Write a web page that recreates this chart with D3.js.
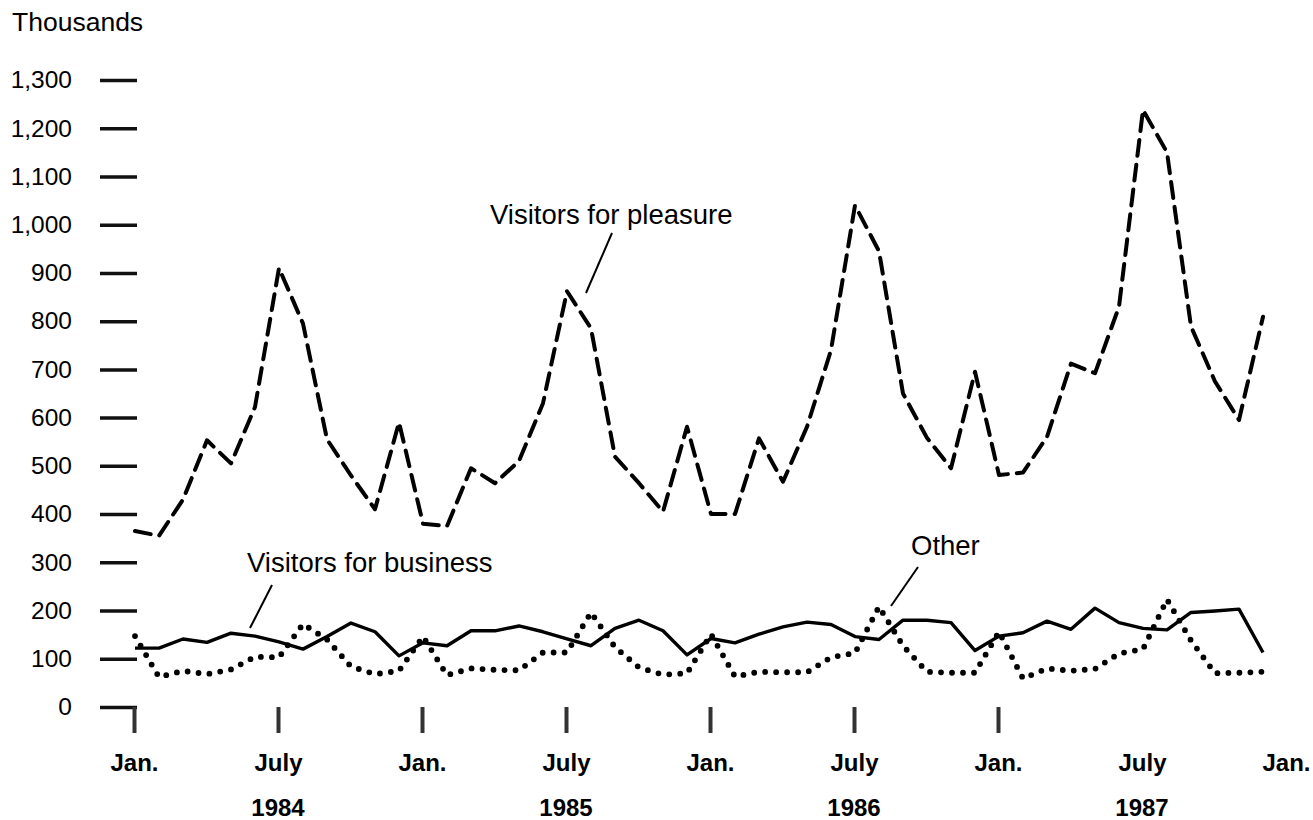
<!DOCTYPE html>
<html>
<head>
<meta charset="utf-8">
<script src="https://cdn.jsdelivr.net/npm/d3@7"></script>
<style>
  html, body { margin: 0; padding: 0; background: #fff; }
  svg { display: block; font-family: "Liberation Sans", Arial, Helvetica, sans-serif; }
</style>
</head>
<body>
<svg id="chart" width="1313" height="820"></svg>
<script>
// Monthly series, Jan 1984 .. Dec 1987 (thousands)
const pleasure = [365, 355, 430, 553, 505, 622, 910, 795, 555, 480, 410, 590,
                  380, 375, 495, 464, 510, 630, 862, 785, 519, 464, 405, 581,
                  400, 400, 557, 467, 581, 740, 1040, 945, 650, 558, 495, 695,
                  481, 486, 560, 712, 692, 830, 1238, 1150, 789, 675, 595, 809];
const business = [122, 122, 141, 134, 153, 147, 135, 120, 146, 174, 156, 106,
                  133, 127, 158, 158, 168, 156, 141, 127, 163, 180, 158, 108,
                  142, 133, 151, 166, 176, 171, 146, 140, 180, 180, 175, 117,
                  147, 154, 178, 161, 205, 175, 163, 160, 196, 199, 203, 113];
const other = [147, 62, 75, 68, 78, 104, 103, 172, 140, 84, 68, 75,
               146, 66, 80, 77, 76, 113, 113, 196, 124, 82, 67, 70,
               151, 63, 73, 72, 72, 103, 112, 208, 127, 73, 71, 71,
               156, 59, 80, 75, 79, 111, 120, 223, 138, 70, 71, 73];
const yTicks = [0, 100, 200, 300, 400, 500, 600, 700, 800, 900, 1000, 1100, 1200, 1300];
const xTickMonths = [0, 6, 12, 18, 24, 30, 36, 42, 48];
const xTickLabels = ["Jan.", "July", "Jan.", "July", "Jan.", "July", "Jan.", "July", "Jan."];
const xTickMarked = [true, true, true, true, true, true, true, false, false];
const years = ["1984", "1985", "1986", "1987"];
const yearMonths = [6, 18, 30, 42];

const svg = d3.select("#chart");
const x = d3.scaleLinear().domain([0, 48]).range([135, 1287]);
const y = d3.scaleLinear().domain([0, 1300]).range([707, 80]);

// Y axis
const yAxis = d3.axisLeft(y).tickValues(yTicks).tickSize(37).tickPadding(28)
  .tickFormat(d3.format(","));
const gy = svg.append("g").attr("transform", "translate(137,0)").call(yAxis);
gy.select(".domain").remove();
gy.selectAll(".tick line").attr("stroke", "#111").attr("stroke-width", 3.5);
gy.selectAll(".tick text").attr("font-size", 24.5).attr("fill", "#000")
  .attr("font-family", "'Liberation Sans', Arial, sans-serif");

svg.append("text").attr("x", 12).attr("y", 31).attr("font-size", 26.5).attr("fill", "#000")
  .text("Thousands");

// X axis
const xAxis = d3.axisBottom(x).tickValues(xTickMonths).tickSize(26).tickPadding(21)
  .tickFormat((d, i) => xTickLabels[i]);
const gx = svg.append("g").attr("transform", "translate(-1,707)").call(xAxis);
gx.select(".domain").remove();
gx.selectAll(".tick line").attr("stroke", "#333").attr("stroke-width", 4)
  .attr("opacity", (d, i) => xTickMarked[i] ? 1 : 0);
gx.selectAll(".tick text").attr("font-size", 24).attr("font-weight", "bold").attr("fill", "#000")
  .attr("font-family", "'Liberation Sans', Arial, sans-serif");

svg.append("g").selectAll("text").data(years).join("text")
  .attr("x", (d, i) => x(yearMonths[i]) - 1)
  .attr("y", 816)
  .attr("text-anchor", "middle")
  .attr("font-size", 24).attr("font-weight", "bold").attr("fill", "#000")
  .text(d => d);

// Lines
const line = d3.line().x((d, i) => x(i)).y(d => y(d));

svg.append("path").datum(pleasure).attr("d", line)
  .attr("fill", "none").attr("stroke", "#000").attr("stroke-width", 4)
  .attr("stroke-dasharray", "16 9").attr("stroke-linecap", "round").attr("stroke-linejoin", "round");

svg.append("path").datum(business).attr("d", line)
  .attr("fill", "none").attr("stroke", "#000").attr("stroke-width", 3.4)
  .attr("stroke-linejoin", "round");

svg.append("path").datum(other).attr("d", line)
  .attr("fill", "none").attr("stroke", "#000").attr("stroke-width", 5.8)
  .attr("stroke-dasharray", "0 11").attr("stroke-linecap", "round");

// Annotations
const ann = svg.append("g").attr("font-size", 27.5).attr("fill", "#000");
ann.append("text").attr("x", 490).attr("y", 224).text("Visitors for pleasure");
ann.append("text").attr("x", 247).attr("y", 572).text("Visitors for business");
ann.append("text").attr("x", 911).attr("y", 555).text("Other");

const leaders = svg.append("g").attr("stroke", "#000").attr("stroke-width", 2);
leaders.append("line").attr("x1", 612).attr("y1", 233).attr("x2", 586).attr("y2", 293);
leaders.append("line").attr("x1", 272).attr("y1", 585).attr("x2", 250).attr("y2", 628);
leaders.append("line").attr("x1", 918).attr("y1", 567).attr("x2", 891).attr("y2", 606);
</script>
</body>
</html>
